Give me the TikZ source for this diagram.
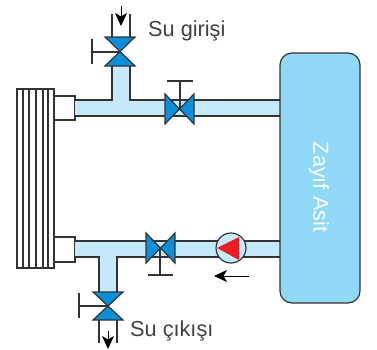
\documentclass[tikz,border=0pt]{standalone}
\usepackage{fontspec}
\setmainfont{Liberation Sans}
\usetikzlibrary{arrows.meta}
\definecolor{pipeblue}{HTML}{C6E9FA}
\definecolor{valveblue}{HTML}{0A8FD8}
\definecolor{tankblue}{HTML}{8FD8F8}
\definecolor{pumpred}{HTML}{EE1C25}
\definecolor{linegray}{HTML}{333333}
\definecolor{textgray}{HTML}{404042}
\tikzset{
  wall/.style={draw=linegray, line width=1.2pt},
  valve/.style={wall, fill=valveblue, line join=miter},
  flow/.style={draw=black, line width=1pt, -{Stealth[length=13pt, width=12pt, inset=3.5pt]}},
  label/.style={font=\fontsize{21.7}{22}\selectfont, text=textgray, inner sep=0pt},
}
\begin{document}
\begin{tikzpicture}[x=1pt, y=-1pt]
  \useasboundingbox (0, 0) rectangle (377, 349);

  %% isi degistirici
  \draw[wall] (17, 89) rectangle (54, 268);
  \foreach \xx in {23, 29, 36, 43, 48}
    \draw[wall] (\xx, 89) -- (\xx, 268);
  \draw[wall] (54, 96) rectangle (75, 120);
  \draw[wall] (54, 237) rectangle (75, 262);

  %% ust boru
  \fill[pipeblue] (75, 100) rectangle (280, 116);
  \fill[pipeblue] (112, 66) rectangle (130, 101);
  \draw[wall] (112, 66) -- (112, 100) -- (75, 100);
  \draw[wall] (130, 66) -- (130, 100) -- (280, 100);
  \draw[wall] (75, 116) -- (280, 116);

  %% alt boru
  \fill[pipeblue] (75, 241) rectangle (280, 257);
  \fill[pipeblue] (99, 256) rectangle (117, 292);
  \draw[wall] (75, 241) -- (280, 241);
  \draw[wall] (75, 257) -- (99, 257) -- (99, 292);
  \draw[wall] (280, 257) -- (117, 257) -- (117, 292);

  %% giris ve cikis hatlari
  \draw[wall] (112, 37) -- (112, 14);
  \draw[wall] (130, 37) -- (130, 14);
  \draw[wall] (99, 320) -- (99, 343);
  \draw[wall] (117, 320) -- (117, 343);
  \draw[flow] (121, 6) -- (121, 26);
  \draw[flow] (108, 331) -- (108, 349);

  %% ust vana (giris)
  \draw[wall] (120, 52) -- (92, 52);
  \draw[wall] (92, 39) -- (92, 64);
  \draw[valve] (105, 37) -- (135, 37) -- (105, 66) -- (135, 66) -- cycle;

  %% alt vana (cikis)
  \draw[wall] (108, 306) -- (79, 306);
  \draw[wall] (79, 293) -- (79, 318);
  \draw[valve] (93, 292) -- (123, 292) -- (93, 320) -- (123, 320) -- cycle;

  %% yatay vanalar
  \draw[wall] (180, 108) -- (180, 81);
  \draw[wall] (167, 81) -- (193, 81);
  \draw[valve] (165, 94) -- (194, 124) -- (194, 94) -- (165, 124) -- cycle;
  \draw[wall] (160, 248) -- (160, 275);
  \draw[wall] (148, 275) -- (173, 275);
  \draw[valve] (146, 233) -- (175, 263) -- (175, 233) -- (146, 263) -- cycle;

  %% pompa
  \draw[wall, fill=pipeblue] (231, 248) circle (15);
  \fill[pumpred] (217, 248) -- (239, 237) -- (239, 260) -- cycle;
  \draw[flow] (249, 276) -- (214, 276);

  %% tank
  \draw[wall, fill=tankblue, rounded corners=12pt] (280, 53) rectangle (360, 303);
  \node[label, text=white, rotate=-90] (acid) at (319, 187) {Zayıf Asit};

  %% yazilar
  \node[label, anchor=west] (inlet) at (148, 31) {Su girişi};
  \node[label, anchor=west] (outlet) at (130, 331) {Su çıkışı};
\end{tikzpicture}
\end{document}
